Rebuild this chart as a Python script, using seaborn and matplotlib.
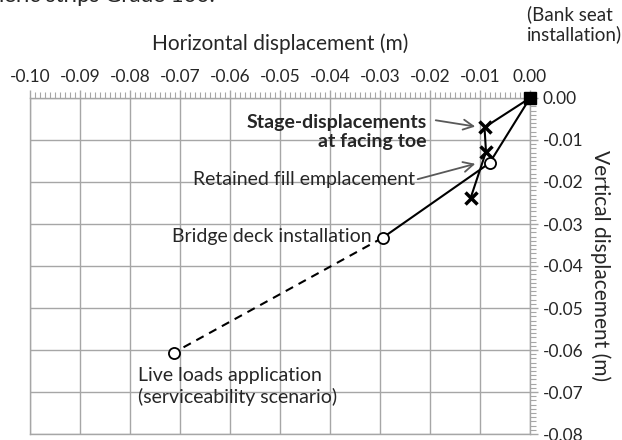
import numpy as np
import pandas as pd
import matplotlib
matplotlib.use('Agg')
import matplotlib.pyplot as plt
from matplotlib.ticker import AutoMinorLocator
import seaborn as sns

# facing toe stage displacements (x markers)
toe_x = [0.0, -0.0091, -0.0088, -0.0119]
toe_y = [0.0, -0.0070, -0.0128, -0.0239]

# construction stages (open circles)
stage_x = [0.0, -0.0081, -0.0295]
stage_y = [0.0, -0.0155, -0.0333]

# live loads (dashed extension)
live_x = [-0.0295, -0.0712]
live_y = [-0.0333, -0.0606]

xticks = np.round(np.arange(-0.10, 0.001, 0.01), 2)
yticks = np.round(np.arange(-0.08, 0.001, 0.01), 2)


def fmt(v):
    return '0.00' if abs(v) < 1e-9 else f'{v:.2f}'


sns.set_style('white')
plt.rcParams['font.family'] = ['Lato', 'DejaVu Sans']
grey = '#a6a6a6'

fig = plt.figure(figsize=(6.22, 4.40), dpi=100)
ax = fig.add_axes([30 / 622, 1 - 434 / 440, 500 / 622, 336 / 440])

toe_df = pd.DataFrame({'x': toe_x, 'y': toe_y})
stage_df = pd.DataFrame({'x': stage_x, 'y': stage_y})
live_df = pd.DataFrame({'x': live_x, 'y': live_y})

sns.lineplot(data=live_df, x='x', y='y', sort=False, estimator=None, ax=ax,
             color='black', lw=1.5, linestyle=(0, (4, 3)), zorder=3)
sns.lineplot(data=stage_df, x='x', y='y', sort=False, estimator=None, ax=ax,
             color='black', lw=1.5, zorder=3)
sns.lineplot(data=toe_df, x='x', y='y', sort=False, estimator=None, ax=ax,
             color='black', lw=1.5, zorder=3)
ax.plot(toe_x[1:], toe_y[1:], 'x', color='black', ms=9, mew=2.5, zorder=4)
ax.plot(stage_x[1:] + live_x[1:], stage_y[1:] + live_y[1:], 'o', color='black',
        mfc='white', ms=8, mew=1.3, zorder=4)
ax.plot([0.0], [0.0], 's', color='black', ms=9, zorder=5, clip_on=False)

ax.set_xlim(-0.10, 0.0)
ax.set_ylim(-0.08, 0.0)
ax.set_xticks(xticks)
ax.set_yticks(yticks)
ax.set_xticklabels([fmt(v) for v in xticks])
ax.set_yticklabels([fmt(v) for v in yticks])
ax.xaxis.set_minor_locator(AutoMinorLocator(10))
ax.yaxis.set_minor_locator(AutoMinorLocator(10))
ax.xaxis.tick_top()
ax.xaxis.set_label_position('top')
ax.yaxis.tick_right()
ax.yaxis.set_label_position('right')
ax.tick_params(which='major', length=6, width=1, color=grey, labelsize=12.5, pad=3)
ax.tick_params(which='minor', length=4, width=0.8, color=grey)
ax.grid(True, color=grey, lw=1)
for s in ax.spines.values():
    s.set_color(grey)
    s.set_linewidth(1)

ax.set_xlabel('Horizontal displacement (m)', fontsize=15, labelpad=14)
ax.set_ylabel('Vertical displacement (m)', fontsize=15, rotation=-90, labelpad=20)

arrow = dict(arrowstyle='->', color='#595959', lw=1.3, mutation_scale=18)
ax.text(-0.0206, -0.0081, 'Stage-displacements\nat facing toe', ha='right', va='center',
        fontsize=14, fontweight='bold', linespacing=1.2, zorder=6)
ax.annotate('', xy=(-0.0104, -0.0069), xytext=(-0.0194, -0.0052), arrowprops=arrow)
ax.text(-0.0230, -0.0195, 'Retained fill emplacement', ha='right', va='center',
        fontsize=14, zorder=6)
ax.annotate('', xy=(-0.0104, -0.0155), xytext=(-0.0230, -0.0195), arrowprops=arrow)
ax.text(-0.0316, -0.0329, 'Bridge deck installation', ha='right', va='center', fontsize=14)
ax.text(-0.0784, -0.0686, 'Live loads application\n(serviceability scenario)', ha='left',
        va='center', fontsize=14, linespacing=1.25)
ax.text(-0.0006, 0.0222, '(Bank seat\ninstallation)', ha='left', va='top', fontsize=13.5,
        linespacing=1.2, clip_on=False)

fig.text(215 / 622, 1 - 1.5 / 440, '(b) Polymeric strips Grade 100:', ha='right',
         va='baseline', fontsize=16)

fig.savefig('out.png', dpi=100)
